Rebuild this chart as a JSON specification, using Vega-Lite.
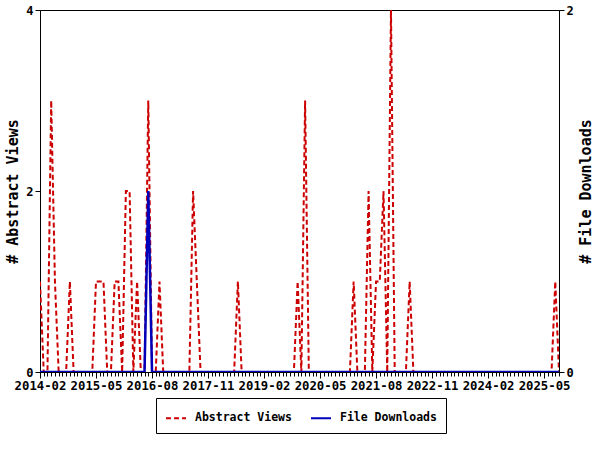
{
  "$schema": "https://vega.github.io/schema/vega-lite/v6.json",
  "width": 519,
  "height": 362,
  "autosize": "none",
  "padding": {"left": 40, "top": 10, "right": 41, "bottom": 78},
  "background": "white",
  "data": {"values": [
    {"month": "2014-02", "Abstract Views": 1, "File Downloads": 0},
    {"month": "2014-03", "Abstract Views": 0, "File Downloads": 0},
    {"month": "2014-04", "Abstract Views": 0, "File Downloads": 0},
    {"month": "2014-05", "Abstract Views": 3, "File Downloads": 0},
    {"month": "2014-06", "Abstract Views": 1, "File Downloads": 0},
    {"month": "2014-07", "Abstract Views": 0, "File Downloads": 0},
    {"month": "2014-08", "Abstract Views": 0, "File Downloads": 0},
    {"month": "2014-09", "Abstract Views": 0, "File Downloads": 0},
    {"month": "2014-10", "Abstract Views": 1, "File Downloads": 0},
    {"month": "2014-11", "Abstract Views": 0, "File Downloads": 0},
    {"month": "2014-12", "Abstract Views": 0, "File Downloads": 0},
    {"month": "2015-01", "Abstract Views": 0, "File Downloads": 0},
    {"month": "2015-02", "Abstract Views": 0, "File Downloads": 0},
    {"month": "2015-03", "Abstract Views": 0, "File Downloads": 0},
    {"month": "2015-04", "Abstract Views": 0, "File Downloads": 0},
    {"month": "2015-05", "Abstract Views": 1, "File Downloads": 0},
    {"month": "2015-06", "Abstract Views": 1, "File Downloads": 0},
    {"month": "2015-07", "Abstract Views": 1, "File Downloads": 0},
    {"month": "2015-08", "Abstract Views": 0, "File Downloads": 0},
    {"month": "2015-09", "Abstract Views": 0, "File Downloads": 0},
    {"month": "2015-10", "Abstract Views": 1, "File Downloads": 0},
    {"month": "2015-11", "Abstract Views": 1, "File Downloads": 0},
    {"month": "2015-12", "Abstract Views": 0, "File Downloads": 0},
    {"month": "2016-01", "Abstract Views": 2, "File Downloads": 0},
    {"month": "2016-02", "Abstract Views": 2, "File Downloads": 0},
    {"month": "2016-03", "Abstract Views": 0, "File Downloads": 0},
    {"month": "2016-04", "Abstract Views": 1, "File Downloads": 0},
    {"month": "2016-05", "Abstract Views": 0, "File Downloads": 0},
    {"month": "2016-06", "Abstract Views": 0, "File Downloads": 0},
    {"month": "2016-07", "Abstract Views": 3, "File Downloads": 1},
    {"month": "2016-08", "Abstract Views": 0, "File Downloads": 0},
    {"month": "2016-09", "Abstract Views": 0, "File Downloads": 0},
    {"month": "2016-10", "Abstract Views": 1, "File Downloads": 0},
    {"month": "2016-11", "Abstract Views": 0, "File Downloads": 0},
    {"month": "2016-12", "Abstract Views": 0, "File Downloads": 0},
    {"month": "2017-01", "Abstract Views": 0, "File Downloads": 0},
    {"month": "2017-02", "Abstract Views": 0, "File Downloads": 0},
    {"month": "2017-03", "Abstract Views": 0, "File Downloads": 0},
    {"month": "2017-04", "Abstract Views": 0, "File Downloads": 0},
    {"month": "2017-05", "Abstract Views": 0, "File Downloads": 0},
    {"month": "2017-06", "Abstract Views": 0, "File Downloads": 0},
    {"month": "2017-07", "Abstract Views": 2, "File Downloads": 0},
    {"month": "2017-08", "Abstract Views": 1, "File Downloads": 0},
    {"month": "2017-09", "Abstract Views": 0, "File Downloads": 0},
    {"month": "2017-10", "Abstract Views": 0, "File Downloads": 0},
    {"month": "2017-11", "Abstract Views": 0, "File Downloads": 0},
    {"month": "2017-12", "Abstract Views": 0, "File Downloads": 0},
    {"month": "2018-01", "Abstract Views": 0, "File Downloads": 0},
    {"month": "2018-02", "Abstract Views": 0, "File Downloads": 0},
    {"month": "2018-03", "Abstract Views": 0, "File Downloads": 0},
    {"month": "2018-04", "Abstract Views": 0, "File Downloads": 0},
    {"month": "2018-05", "Abstract Views": 0, "File Downloads": 0},
    {"month": "2018-06", "Abstract Views": 0, "File Downloads": 0},
    {"month": "2018-07", "Abstract Views": 1, "File Downloads": 0},
    {"month": "2018-08", "Abstract Views": 0, "File Downloads": 0},
    {"month": "2018-09", "Abstract Views": 0, "File Downloads": 0},
    {"month": "2018-10", "Abstract Views": 0, "File Downloads": 0},
    {"month": "2018-11", "Abstract Views": 0, "File Downloads": 0},
    {"month": "2018-12", "Abstract Views": 0, "File Downloads": 0},
    {"month": "2019-01", "Abstract Views": 0, "File Downloads": 0},
    {"month": "2019-02", "Abstract Views": 0, "File Downloads": 0},
    {"month": "2019-03", "Abstract Views": 0, "File Downloads": 0},
    {"month": "2019-04", "Abstract Views": 0, "File Downloads": 0},
    {"month": "2019-05", "Abstract Views": 0, "File Downloads": 0},
    {"month": "2019-06", "Abstract Views": 0, "File Downloads": 0},
    {"month": "2019-07", "Abstract Views": 0, "File Downloads": 0},
    {"month": "2019-08", "Abstract Views": 0, "File Downloads": 0},
    {"month": "2019-09", "Abstract Views": 0, "File Downloads": 0},
    {"month": "2019-10", "Abstract Views": 0, "File Downloads": 0},
    {"month": "2019-11", "Abstract Views": 1, "File Downloads": 0},
    {"month": "2019-12", "Abstract Views": 0, "File Downloads": 0},
    {"month": "2020-01", "Abstract Views": 3, "File Downloads": 0},
    {"month": "2020-02", "Abstract Views": 0, "File Downloads": 0},
    {"month": "2020-03", "Abstract Views": 0, "File Downloads": 0},
    {"month": "2020-04", "Abstract Views": 0, "File Downloads": 0},
    {"month": "2020-05", "Abstract Views": 0, "File Downloads": 0},
    {"month": "2020-06", "Abstract Views": 0, "File Downloads": 0},
    {"month": "2020-07", "Abstract Views": 0, "File Downloads": 0},
    {"month": "2020-08", "Abstract Views": 0, "File Downloads": 0},
    {"month": "2020-09", "Abstract Views": 0, "File Downloads": 0},
    {"month": "2020-10", "Abstract Views": 0, "File Downloads": 0},
    {"month": "2020-11", "Abstract Views": 0, "File Downloads": 0},
    {"month": "2020-12", "Abstract Views": 0, "File Downloads": 0},
    {"month": "2021-01", "Abstract Views": 0, "File Downloads": 0},
    {"month": "2021-02", "Abstract Views": 1, "File Downloads": 0},
    {"month": "2021-03", "Abstract Views": 0, "File Downloads": 0},
    {"month": "2021-04", "Abstract Views": 0, "File Downloads": 0},
    {"month": "2021-05", "Abstract Views": 0, "File Downloads": 0},
    {"month": "2021-06", "Abstract Views": 2, "File Downloads": 0},
    {"month": "2021-07", "Abstract Views": 0, "File Downloads": 0},
    {"month": "2021-08", "Abstract Views": 1, "File Downloads": 0},
    {"month": "2021-09", "Abstract Views": 1, "File Downloads": 0},
    {"month": "2021-10", "Abstract Views": 2, "File Downloads": 0},
    {"month": "2021-11", "Abstract Views": 0, "File Downloads": 0},
    {"month": "2021-12", "Abstract Views": 4, "File Downloads": 0},
    {"month": "2022-01", "Abstract Views": 0, "File Downloads": 0},
    {"month": "2022-02", "Abstract Views": 0, "File Downloads": 0},
    {"month": "2022-03", "Abstract Views": 0, "File Downloads": 0},
    {"month": "2022-04", "Abstract Views": 0, "File Downloads": 0},
    {"month": "2022-05", "Abstract Views": 1, "File Downloads": 0},
    {"month": "2022-06", "Abstract Views": 0, "File Downloads": 0},
    {"month": "2022-07", "Abstract Views": 0, "File Downloads": 0},
    {"month": "2022-08", "Abstract Views": 0, "File Downloads": 0},
    {"month": "2022-09", "Abstract Views": 0, "File Downloads": 0},
    {"month": "2022-10", "Abstract Views": 0, "File Downloads": 0},
    {"month": "2022-11", "Abstract Views": 0, "File Downloads": 0},
    {"month": "2022-12", "Abstract Views": 0, "File Downloads": 0},
    {"month": "2023-01", "Abstract Views": 0, "File Downloads": 0},
    {"month": "2023-02", "Abstract Views": 0, "File Downloads": 0},
    {"month": "2023-03", "Abstract Views": 0, "File Downloads": 0},
    {"month": "2023-04", "Abstract Views": 0, "File Downloads": 0},
    {"month": "2023-05", "Abstract Views": 0, "File Downloads": 0},
    {"month": "2023-06", "Abstract Views": 0, "File Downloads": 0},
    {"month": "2023-07", "Abstract Views": 0, "File Downloads": 0},
    {"month": "2023-08", "Abstract Views": 0, "File Downloads": 0},
    {"month": "2023-09", "Abstract Views": 0, "File Downloads": 0},
    {"month": "2023-10", "Abstract Views": 0, "File Downloads": 0},
    {"month": "2023-11", "Abstract Views": 0, "File Downloads": 0},
    {"month": "2023-12", "Abstract Views": 0, "File Downloads": 0},
    {"month": "2024-01", "Abstract Views": 0, "File Downloads": 0},
    {"month": "2024-02", "Abstract Views": 0, "File Downloads": 0},
    {"month": "2024-03", "Abstract Views": 0, "File Downloads": 0},
    {"month": "2024-04", "Abstract Views": 0, "File Downloads": 0},
    {"month": "2024-05", "Abstract Views": 0, "File Downloads": 0},
    {"month": "2024-06", "Abstract Views": 0, "File Downloads": 0},
    {"month": "2024-07", "Abstract Views": 0, "File Downloads": 0},
    {"month": "2024-08", "Abstract Views": 0, "File Downloads": 0},
    {"month": "2024-09", "Abstract Views": 0, "File Downloads": 0},
    {"month": "2024-10", "Abstract Views": 0, "File Downloads": 0},
    {"month": "2024-11", "Abstract Views": 0, "File Downloads": 0},
    {"month": "2024-12", "Abstract Views": 0, "File Downloads": 0},
    {"month": "2025-01", "Abstract Views": 0, "File Downloads": 0},
    {"month": "2025-02", "Abstract Views": 0, "File Downloads": 0},
    {"month": "2025-03", "Abstract Views": 0, "File Downloads": 0},
    {"month": "2025-04", "Abstract Views": 0, "File Downloads": 0},
    {"month": "2025-05", "Abstract Views": 0, "File Downloads": 0},
    {"month": "2025-06", "Abstract Views": 0, "File Downloads": 0},
    {"month": "2025-07", "Abstract Views": 0, "File Downloads": 0},
    {"month": "2025-08", "Abstract Views": 1, "File Downloads": 0},
    {"month": "2025-09", "Abstract Views": 0, "File Downloads": 0}
  ]},
  "layer": [
    {
      "transform": [{"fold": ["Abstract Views"], "as": ["series", "value"]}],
      "mark": {"type": "line", "strokeWidth": 2, "clip": true},
      "encoding": {
        "x": {"field": "month", "type": "ordinal", "sort": null,
              "scale": {"type": "point", "padding": 0},
              "axis": {"orient": "bottom", "labels": false, "domain": false, "tickSize": 4, "title": null}},
        "y": {"field": "value", "type": "quantitative",
              "scale": {"domain": [0, 4], "nice": false, "zero": true},
              "axis": {"orient": "left", "values": [0, 2, 4], "tickSize": 5, "labelPadding": 2, "title": "# Abstract Views", "titlePadding": 5}},
        "color": {"field": "series", "type": "nominal",
                  "scale": {"domain": ["Abstract Views", "File Downloads"], "range": ["#cc0000", "#0000bb"]},
                  "legend": {"title": null}},
        "strokeDash": {"field": "series", "type": "nominal",
                  "scale": {"domain": ["Abstract Views", "File Downloads"], "range": [[5, 3], [1, 0]]},
                  "legend": {"title": null}}
      }
    },
    {
      "transform": [{"fold": ["File Downloads"], "as": ["series", "value"]}],
      "mark": {"type": "line", "strokeWidth": 2.5, "clip": true},
      "encoding": {
        "x": {"field": "month", "type": "ordinal", "sort": null,
              "scale": {"type": "point", "padding": 0},
              "axis": {"orient": "bottom", "values": ["2014-02", "2015-05", "2016-08", "2017-11", "2019-02", "2020-05", "2021-08", "2022-11", "2024-02", "2025-05"],
                       "tickSize": 6, "labelPadding": 1, "labelAngle": 0, "labelFontSize": 12.3, "title": null, "domain": false}},
        "y": {"field": "value", "type": "quantitative",
              "scale": {"domain": [0, 2], "nice": false, "zero": true},
              "axis": {"orient": "right", "values": [0, 2], "tickSize": 5, "labelPadding": 2, "title": "# File Downloads", "titleAngle": 270, "titlePadding": 20}},
        "color": {"field": "series", "type": "nominal",
                  "scale": {"domain": ["Abstract Views", "File Downloads"], "range": ["#cc0000", "#0000bb"]},
                  "legend": {"title": null}},
        "strokeDash": {"field": "series", "type": "nominal",
                  "scale": {"domain": ["Abstract Views", "File Downloads"], "range": [[5, 3], [1, 0]]},
                  "legend": {"title": null}}
      }
    }
  ],
  "resolve": {"scale": {"y": "independent"}, "axis": {"x": "independent", "y": "independent"}},
  "config": {
    "view": {"stroke": "black", "strokeWidth": 1},
    "axis": {
      "grid": false,
      "domainColor": "black",
      "tickColor": "black",
      "labelColor": "black",
      "titleColor": "black",
      "labelFont": "DejaVu Sans Mono",
      "labelFontWeight": "bold",
      "labelFontSize": 12,
      "titleFont": "DejaVu Sans Mono",
      "titleFontWeight": "bold",
      "titleFontSize": 15
    },
    "legend": {
      "orient": "none",
      "legendX": 116,
      "legendY": 388,
      "direction": "horizontal",
      "strokeColor": "black",
      "padding": 9,
      "symbolType": "stroke",
      "symbolSize": 400,
      "symbolStrokeWidth": 2,
      "labelFont": "DejaVu Sans Mono",
      "labelFontWeight": "bold",
      "labelFontSize": 11.5,
      "labelColor": "black",
      "labelOffset": 8,
      "columnPadding": 15
    }
  }
}
